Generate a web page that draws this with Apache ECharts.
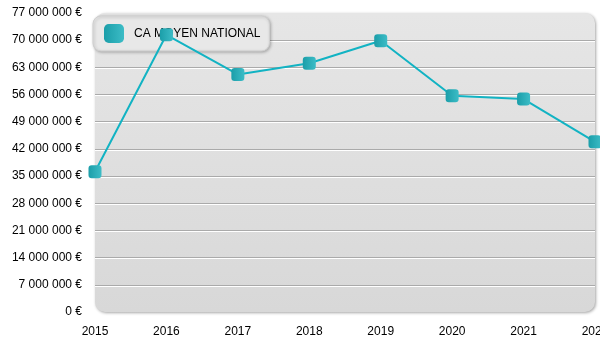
<!DOCTYPE html>
<html><head><meta charset="utf-8">
<script src="https://cdn.jsdelivr.net/npm/echarts@6/dist/echarts.min.js"></script>
<style>html,body{margin:0;padding:0;background:#fff}#c{width:600px;height:350px}</style>
</head><body><div id="c"></div>
<script>
var categories = ['2015','2016','2017','2018','2019','2020','2021','2022'];
var seriesName = 'CA MOYEN NATIONAL';
var values = [36100000, 71350000, 61150000, 64000000, 69800000, 55650000, 54800000, 43800000];
var yMin = 0, yMax = 77000000, yStep = 7000000;

function fmt(v){ return String(v).replace(/\B(?=(\d{3})+(?!\d))/g, ' ') + ' €'; }
var markerGrad = {type:'linear',x:0,y:0,x2:1,y2:0,colorStops:[{offset:0,color:'#1b9ea9'},{offset:1,color:'#3cbcc6'}]};
var chart = echarts.init(document.getElementById('c'), null, {renderer:'canvas'});
chart.setOption({
  animation:false,
  backgroundColor:'#fff',
  textStyle:{fontFamily:'Liberation Sans, Arial, sans-serif'},
  graphic:[{
    type:'rect', z:-10, left:95, top:13,
    shape:{width:500, height:299, r:10},
    style:{fill:{type:'linear',x:0,y:0,x2:0,y2:1,colorStops:[{offset:0,color:'#e6e6e6'},{offset:1,color:'#d8d8d8'}]},
      shadowColor:'rgba(0,0,0,0.35)', shadowBlur:3, shadowOffsetX:1, shadowOffsetY:1}
  }],
  legend:{
    z:1, left:93, top:16, padding:[8,9,8,11],
    backgroundColor:'#e8e8e8', borderColor:'#cfcfcf', borderWidth:1, borderRadius:8,
    shadowColor:'rgba(0,0,0,0.25)', shadowBlur:3, shadowOffsetX:1, shadowOffsetY:1,
    itemWidth:20, itemHeight:19, icon:'roundRect',
    textStyle:{color:'#000', fontSize:12, padding:[0,0,0,5], fontFamily:'Liberation Sans, Arial, sans-serif'},
    data:[{name:seriesName, itemStyle:{color:markerGrad}}]
  },
  grid:{left:95, right:5, top:12.8, bottom:38, containLabel:false, outerBoundsMode:'none'},
  xAxis:{type:'category', data:categories, boundaryGap:false,
    axisLine:{show:false}, axisTick:{show:false}, splitLine:{show:false},
    axisLabel:{color:'#000', fontSize:12, margin:14, fontFamily:'Liberation Sans, Arial, sans-serif'}},
  yAxis:{type:'value', min:yMin, max:yMax, interval:yStep,
    axisLine:{show:false}, axisTick:{show:false},
    splitLine:{show:true, showMinLine:false, showMaxLine:false,
      lineStyle:{color:'#aaaaaa', width:1, shadowColor:'#ffffff', shadowOffsetY:1, shadowBlur:0}},
    axisLabel:{color:'#000', fontSize:12, margin:13, formatter:fmt, fontFamily:'Liberation Sans, Arial, sans-serif'}},
  series:[{
    name:seriesName, type:'line', z:5, data:values,
    symbol:'roundRect', symbolSize:13,
    lineStyle:{color:'#12b3c3', width:2},
    itemStyle:{color:markerGrad}
  }]
});
</script></body></html>
